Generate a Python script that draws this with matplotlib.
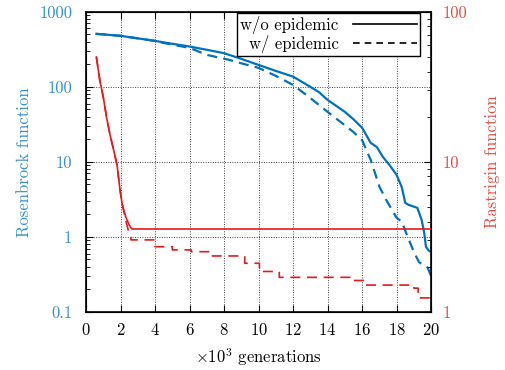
import numpy as np
import matplotlib
matplotlib.use('Agg')
from matplotlib import pyplot as plt
from matplotlib.ticker import FixedLocator, LogLocator, NullFormatter, FixedFormatter

plt.rcParams['font.family'] = 'cmr10'
plt.rcParams['mathtext.fontset'] = 'cm'
plt.rcParams['axes.formatter.use_mathtext'] = True
plt.rcParams['font.size'] = 12

# Rosenbrock, without epidemic (left axis)
ros_x = [0.6, 2, 3, 4, 5, 6, 7, 8, 9, 10, 11, 12, 13, 13.5, 14, 15, 15.5, 16,
         16.5, 16.85, 17.2, 17.6, 18.0, 18.3, 18.5, 18.7, 19.2, 19.45, 19.6,
         19.7, 19.85, 20]
ros_y = [509, 479, 443, 410, 375, 345, 312, 281, 236, 196, 163, 137, 100, 85,
         67, 46.4, 37, 28.5, 17.9, 15.8, 11.7, 9.0, 6.7, 4.6, 2.84, 2.67, 2.44,
         1.69, 1.13, 0.74, 0.66, 0.63]

# Rosenbrock, with epidemic
ros_ep_x = [0.6, 2, 3, 4, 4.5, 5, 6, 7, 8.3, 9, 10, 11, 12, 13, 14, 15.5, 16,
            16.5, 17, 17.4, 18, 18.3, 18.6, 19, 19.3, 19.8, 20]
ros_ep_y = [509, 479, 443, 410, 385, 365, 331, 267, 229, 206, 179, 140, 106,
            71, 46.4, 25, 19.5, 10.6, 4.7, 3.1, 1.8, 1.6, 1.06, 0.63, 0.46,
            0.39, 0.30]

# Rastrigin, without epidemic (right axis)
ras_x = [0.6, 0.8, 1.0, 1.2, 1.4, 1.6, 1.8, 1.97, 2.1, 2.3, 2.5, 2.65, 20]
ras_y = [50, 35, 27, 19.5, 15, 12, 9.5, 6.5, 5.2, 4.3, 3.8, 3.57, 3.57]

# Rastrigin, with epidemic: initial descent then stepwise improvements
ras_ep_x = [0.6, 0.8, 1.0, 1.2, 1.4, 1.6, 1.8, 1.97, 2.1, 2.3, 2.45, 2.6]
ras_ep_y = [50, 35, 27, 19.5, 15, 12, 9.5, 6.5, 5.2, 4.1, 3.5, 3.16]
step_x = [2.6, 4.0, 5.0, 6.1, 7.2, 9.2, 10.05, 11.2, 15.3, 16.2, 19.0, 19.25, 20]
step_y = [3.02, 2.72, 2.59, 2.52, 2.36, 2.11, 1.86, 1.70, 1.62, 1.51, 1.44, 1.24, 1.24]

blue = '#0072bd'
red = '#e41a1c'
blue_txt = '#3391c9'
red_txt = '#e84a3f'

fig = plt.figure(figsize=(5.06, 3.70), dpi=100)
ax1 = fig.add_axes([0.170, 0.157, 0.682, 0.811])
ax2 = ax1.twinx()

ax1.plot(ros_x, ros_y, color=blue, lw=1.6)
ax1.plot(ros_ep_x, ros_ep_y, color=blue, lw=1.6, dashes=(4.5, 2.8))

sx = np.repeat(step_x, 2)[1:]
sy = np.repeat(step_y, 2)[:-1]
ax2.plot(ras_x, ras_y, color=red, lw=1.2)
ax2.plot(np.concatenate([ras_ep_x, sx]), np.concatenate([ras_ep_y, sy]),
         color=red, lw=1.2, dashes=(6, 4))

ax1.set_xlim(0, 20)
ax1.set_yscale('log')
ax1.set_ylim(0.1, 1000)
ax2.set_yscale('log')
ax2.set_ylim(1, 100)

ax1.set_xticks(np.arange(0, 21, 2))
ax1.yaxis.set_major_locator(FixedLocator([0.1, 1, 10, 100, 1000]))
ax1.yaxis.set_major_formatter(FixedFormatter(['0.1', '1', '10', '100', '1000']))
ax1.yaxis.set_minor_locator(LogLocator(base=10, subs=np.arange(2, 10)))
ax1.yaxis.set_minor_formatter(NullFormatter())
ax2.yaxis.set_major_locator(FixedLocator([1, 10, 100]))
ax2.yaxis.set_major_formatter(FixedFormatter(['1', '10', '100']))
ax2.yaxis.set_minor_locator(LogLocator(base=10, subs=np.arange(2, 10)))
ax2.yaxis.set_minor_formatter(NullFormatter())

ax1.tick_params(axis='x', which='both', direction='in', top=True, length=5,
                width=0.8, pad=7, labelsize=12)
ax1.tick_params(axis='y', which='major', direction='in', length=5, width=0.8,
                pad=10, labelsize=12, labelcolor=blue_txt, right=False)
ax1.tick_params(axis='y', which='minor', direction='in', length=3, width=0.6, right=False)
ax2.tick_params(axis='y', which='major', direction='in', length=5, width=0.8,
                pad=8, labelsize=12, labelcolor=red_txt)
ax2.tick_params(axis='y', which='minor', direction='in', length=3, width=0.6)

ax1.grid(True, which='major', color='#444444', linestyle=(0, (1, 1.5)), lw=0.7)
for sp in ax1.spines.values():
    sp.set_linewidth(1.2)

ax1.set_xlabel(r'$\times 10^3$ generations', labelpad=6)
ax1.set_ylabel('Rosenbrock function', color=blue_txt, labelpad=5)
ax2.set_ylabel('Rastrigin function', color=red_txt, labelpad=13)

h1, = ax1.plot([], [], color='black', lw=1.2)
h2, = ax1.plot([], [], color='black', lw=1.2, dashes=(4, 3))
leg = ax1.legend([h1, h2], ['w/o epidemic', 'w/ epidemic'], loc='upper right',
                 bbox_to_anchor=(0.968, 0.997), borderaxespad=0,
                 markerfirst=False, fancybox=False,
                 framealpha=1, edgecolor='black', handlelength=3.8,
                 handletextpad=0.9, borderpad=0.2, labelspacing=0.05,
                 fontsize=12)
leg.get_frame().set_linewidth(1.0)

fig.savefig('out.png', dpi=100)
